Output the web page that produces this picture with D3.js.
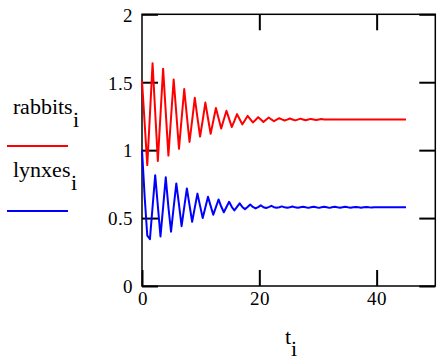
<!DOCTYPE html>
<html>
<head>
<meta charset="utf-8">
<script src="https://cdn.jsdelivr.net/npm/d3@7"></script>
<style>
  @font-face {
    font-family: "SerifLocal";
    src: local("Liberation Serif"), local("LiberationSerif"), local("LiberationSerif-Regular"),
         local("Times New Roman"), local("TimesNewRomanPSMT"), local("DejaVu Serif"), local("DejaVuSerif"),
         local("Noto Serif"), local("NotoSerif-Regular"), local("Noto Serif CJK SC"), local("NotoSerifCJKsc-Regular");
  }
  html, body { margin: 0; padding: 0; background: #fff; }
  svg { display: block; }
  svg text { font-family: "SerifLocal", "Liberation Serif", "DejaVu Serif", "Noto Serif", "Times New Roman", Times, serif !important; }
</style>
</head>
<body>
<svg id="chart" width="437" height="360"></svg>
<script>
// ---- data ----
const tValues = [0, 0.45, 0.9, 1.35, 1.8, 2.25, 2.7, 3.15, 3.6, 4.05,
  4.5, 4.95, 5.4, 5.85, 6.3, 6.75, 7.2, 7.65, 8.1, 8.55,
  9, 9.45, 9.9, 10.35, 10.8, 11.25, 11.7, 12.15, 12.6, 13.05,
  13.5, 13.95, 14.4, 14.85, 15.3, 15.75, 16.2, 16.65, 17.1, 17.55,
  18, 18.45, 18.9, 19.35, 19.8, 20.25, 20.7, 21.15, 21.6, 22.05,
  22.5, 22.95, 23.4, 23.85, 24.3, 24.75, 25.2, 25.65, 26.1, 26.55,
  27, 27.45, 27.9, 28.35, 28.8, 29.25, 29.7, 30.15, 30.6, 31.05,
  31.5, 31.95, 32.4, 32.85, 33.3, 33.75, 34.2, 34.65, 35.1, 35.55,
  36, 36.45, 36.9, 37.35, 37.8, 38.25, 38.7, 39.15, 39.6, 40.05,
  40.5, 40.95, 41.4, 41.85, 42.3, 42.75, 43.2, 43.65, 44.1, 44.55, 45];

const rabbits = [1.51, 1.20, 0.89, 1.26, 1.64, 1.28, 0.92, 1.26, 1.60, 1.28,
  0.96, 1.24, 1.52, 1.27, 1.01, 1.23, 1.45, 1.25, 1.06, 1.22,
  1.385, 1.24, 1.10, 1.22, 1.35, 1.235, 1.12, 1.215, 1.31, 1.235,
  1.16, 1.225, 1.29, 1.23, 1.17, 1.215, 1.265, 1.228, 1.19, 1.22,
  1.252, 1.228, 1.204, 1.222, 1.243, 1.226, 1.208, 1.224, 1.240, 1.226,
  1.213, 1.224, 1.235, 1.226, 1.218, 1.225, 1.233, 1.226, 1.219, 1.225,
  1.232, 1.226, 1.220, 1.225, 1.230, 1.226, 1.222, 1.226, 1.229, 1.226,
  1.226, 1.226, 1.226, 1.226, 1.226, 1.226, 1.226, 1.226, 1.226, 1.226,
  1.226, 1.226, 1.226, 1.226, 1.226, 1.226, 1.226, 1.226, 1.226, 1.226,
  1.226, 1.226, 1.226, 1.226, 1.226, 1.226, 1.226, 1.226, 1.226, 1.226, 1.226];

const lynxes = [1.00, 0.66, 0.37, 0.345, 0.58, 0.816, 0.59, 0.365, 0.58, 0.80,
  0.58, 0.40, 0.58, 0.755, 0.60, 0.44, 0.58, 0.718, 0.595, 0.473,
  0.577, 0.68, 0.59, 0.50, 0.578, 0.657, 0.59, 0.525, 0.58, 0.637,
  0.585, 0.543, 0.582, 0.620, 0.583, 0.556, 0.582, 0.608, 0.582, 0.566,
  0.581, 0.600, 0.582, 0.571, 0.581, 0.594, 0.580, 0.574, 0.581, 0.590,
  0.580, 0.576, 0.580, 0.586, 0.579, 0.576, 0.580, 0.585, 0.579, 0.576,
  0.580, 0.584, 0.579, 0.575, 0.580, 0.584, 0.579, 0.575, 0.580, 0.583,
  0.579, 0.575, 0.580, 0.583, 0.579, 0.576, 0.580, 0.583, 0.579, 0.576,
  0.580, 0.582, 0.579, 0.576, 0.580, 0.582, 0.579, 0.577, 0.579, 0.579,
  0.579, 0.579, 0.579, 0.579, 0.579, 0.579, 0.579, 0.579, 0.579, 0.579, 0.579];

const xTicks = [0, 20, 40];
const xTickLabels = ["0", "20", "40"];
const yTicks = [0, 0.5, 1, 1.5, 2];
const yTickLabels = ["0", "0.5", "1", "1.5", "2"];
const xDomain = [0, 50];
const yDomain = [0, 2];
const seriesNames = ["rabbits", "lynxes"];
const seriesColors = ["#ff0000", "#0000ff"];
const xTitle = "t";
const subscript = "i";

// ---- drawing ----
const FONT = "SerifLocal, 'Liberation Serif', 'DejaVu Serif', 'Noto Serif', 'Times New Roman', Times, serif";
const svg = d3.select("#chart");
const x = d3.scaleLinear().domain(xDomain).range([142, 435.3]);
const y = d3.scaleLinear().domain(yDomain).range([286, 14.3]);

const tickLen = 16;
const tickFont = 19;

function styleAxis(g) {
  g.attr("font-family", FONT).attr("font-size", tickFont);
  g.select(".domain").remove();
  g.selectAll(".tick line").attr("stroke", "#000").attr("stroke-width", 2);
  g.selectAll(".tick text").attr("fill", "#000").attr("font-family", FONT);
}

// left axis with labels
svg.append("g").attr("transform", `translate(${x(0)},0)`)
  .call(d3.axisLeft(y).tickValues(yTicks)
    .tickFormat((d, i) => yTickLabels[i]).tickSize(-tickLen).tickPadding(9))
  .call(styleAxis)
  .selectAll(".tick text").attr("dy", "0.36em");

// bottom axis with labels
svg.append("g").attr("transform", `translate(0,${y(0)})`)
  .call(d3.axisBottom(x).tickValues(xTicks)
    .tickFormat((d, i) => xTickLabels[i]).tickSize(-tickLen).tickPadding(6))
  .call(styleAxis);

// top axis ticks only
svg.append("g").attr("transform", `translate(0,${y(2)})`)
  .call(d3.axisTop(x).tickValues(xTicks.filter(d => d > 0)).tickFormat("").tickSize(-tickLen))
  .call(styleAxis);

// right axis ticks only
svg.append("g").attr("transform", `translate(${x(50)},0)`)
  .call(d3.axisRight(y).tickValues(yTicks).tickFormat("").tickSize(-tickLen))
  .call(styleAxis);

// frame
svg.append("rect")
  .attr("x", x(0)).attr("y", y(2))
  .attr("width", x(50) - x(0)).attr("height", y(0) - y(2))
  .attr("fill", "none").attr("stroke", "#000").attr("stroke-width", 1.5);

// series lines
const line = d3.line().x((d, i) => x(tValues[i])).y(d => y(d));
[rabbits, lynxes].forEach((vals, k) => {
  svg.append("path")
    .datum(vals)
    .attr("d", line)
    .attr("fill", "none")
    .attr("stroke", seriesColors[k])
    .attr("stroke-width", 2)
    .attr("stroke-linejoin", "round");
});

// legend
const legendFont = 22;
const legendTextY = [114, 177];
const legendLineY = [146, 211];
seriesNames.forEach((name, k) => {
  const t = svg.append("text")
    .attr("x", 12.7).attr("y", legendTextY[k])
    .attr("font-family", FONT).attr("font-size", legendFont).attr("fill", "#000");
  t.append("tspan").text(name);
  t.append("tspan").attr("dy", 13).text(subscript);
  svg.append("line")
    .attr("x1", 7).attr("x2", 68)
    .attr("y1", legendLineY[k]).attr("y2", legendLineY[k])
    .attr("stroke", seriesColors[k]).attr("stroke-width", 2);
});

// x title
const xt = svg.append("text").attr("x", 285).attr("y", 344)
  .attr("font-family", FONT).attr("font-size", legendFont).attr("fill", "#000");
xt.append("tspan").text(xTitle);
xt.append("tspan").attr("dy", 12).text(subscript);
</script>
</body>
</html>
